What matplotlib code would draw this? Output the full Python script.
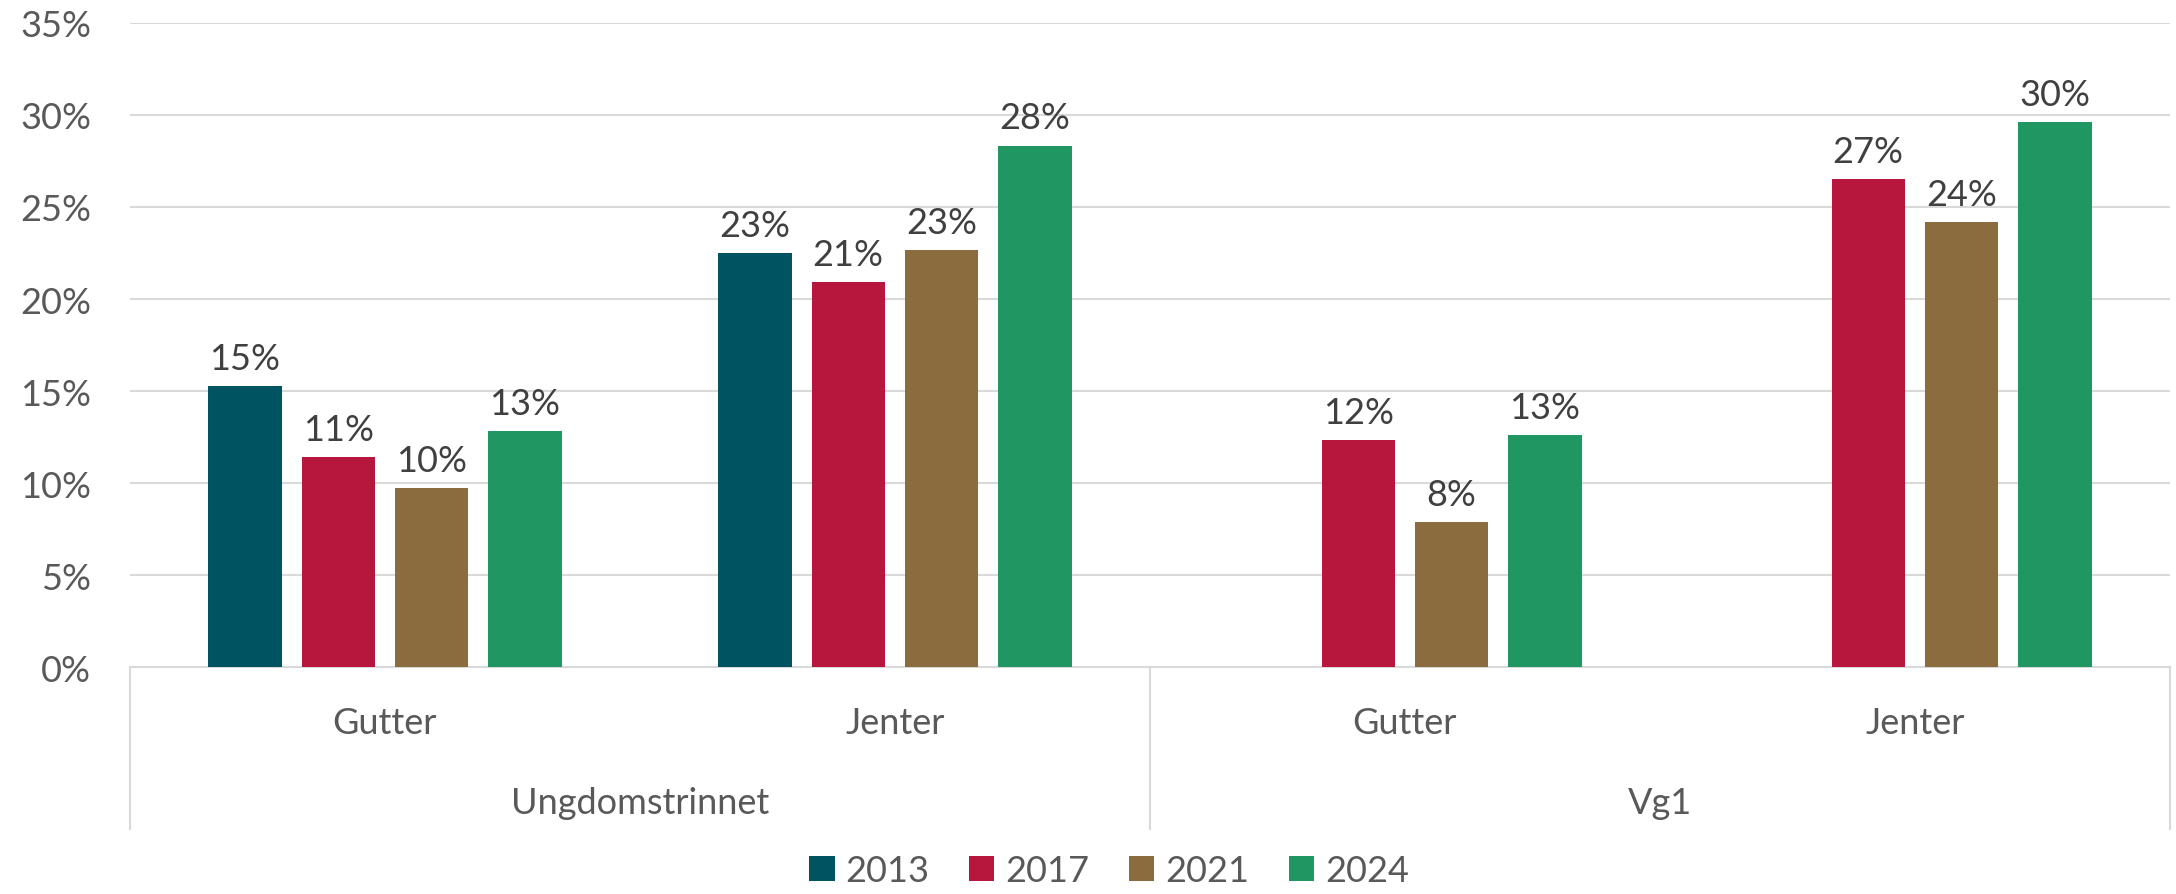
import numpy as np
import matplotlib
matplotlib.use("Agg")
import matplotlib.pyplot as plt
from matplotlib.patches import Patch

# -------------------------------
# DATA
# -------------------------------
years = ["2013", "2017", "2021", "2024"]
subgroups = ["Gutter", "Jenter", "Gutter", "Jenter"]
groups = ["Ungdomstrinnet", "Vg1"]

v2013 = [15.27, 22.52, np.nan, np.nan]
v2017 = [11.41, 20.94, 12.32, 26.53]
v2021 = [9.75, 22.68, 7.86, 24.19]
v2024 = [12.85, 28.34, 12.62, 29.63]
series = [v2013, v2017, v2021, v2024]

colors = ["#005461", "#B8173D", "#8B6C3E", "#209663"]

plt.rcParams["font.family"] = ["Lato", "DejaVu Sans"]

# -------------------------------
# FIGURE
# -------------------------------
fig = plt.figure(figsize=(21.76, 8.95), dpi=100)
ax = fig.add_axes([0.0597, 0.2536, 0.9375, 0.7196])

x = np.arange(len(subgroups))
width = 0.144
step = 0.183

for i, (vals, c) in enumerate(zip(series, colors)):
    pos = x + (i - 1.5) * step
    ax.bar(pos, vals, width=width, color=c, zorder=3)
    for p, v in zip(pos, vals):
        if np.isnan(v):
            continue
        ax.text(p, v + 0.6, f"{v:.0f}%", ha="center", va="bottom",
                fontsize=26, color="#404040")

ax.set_xlim(-0.5, len(subgroups) - 0.5)
ax.set_ylim(0, 35)
ax.set_yticks(np.arange(0, 36, 5))
ax.set_yticklabels([f"{t}%" for t in range(0, 36, 5)])
ax.tick_params(axis="y", length=0, labelsize=26, labelcolor="#595959", pad=28)
ax.set_xticks([])
ax.grid(axis="y", color="#D9D9D9", linewidth=1.5, zorder=0)
for s in ["top", "right", "left"]:
    ax.spines[s].set_visible(False)
ax.spines["bottom"].set_color("#D9D9D9")
ax.spines["bottom"].set_linewidth(1.5)

# -------------------------------
# MULTI-LEVEL CATEGORY AXIS
# -------------------------------
trans = ax.get_xaxis_transform()
box_bottom = -0.2516
for xb in [-0.5, 1.5, 3.5]:
    ax.plot([xb, xb], [0, box_bottom], transform=trans, color="#D9D9D9",
            linewidth=1.5, clip_on=False)

for xi, lab in zip(x, subgroups):
    ax.text(xi, -0.0854, lab, transform=trans, ha="center", va="center",
            fontsize=26, color="#595959")
for gi, g in enumerate(groups):
    ax.text(gi * 2 + 0.5, -0.211, g, transform=trans, ha="center", va="center",
            fontsize=26, color="#595959")

# -------------------------------
# LEGEND
# -------------------------------
handles = [Patch(facecolor=c, label=y) for c, y in zip(colors, years)]
fig.legend(handles=handles, loc="center", bbox_to_anchor=(0.5097, 0.026),
           ncol=4, frameon=False, fontsize=26, labelcolor="#595959",
           handlelength=0.7, handleheight=0.7, handletextpad=0.3,
           columnspacing=1.1)

fig.savefig("out.png", dpi=100)
